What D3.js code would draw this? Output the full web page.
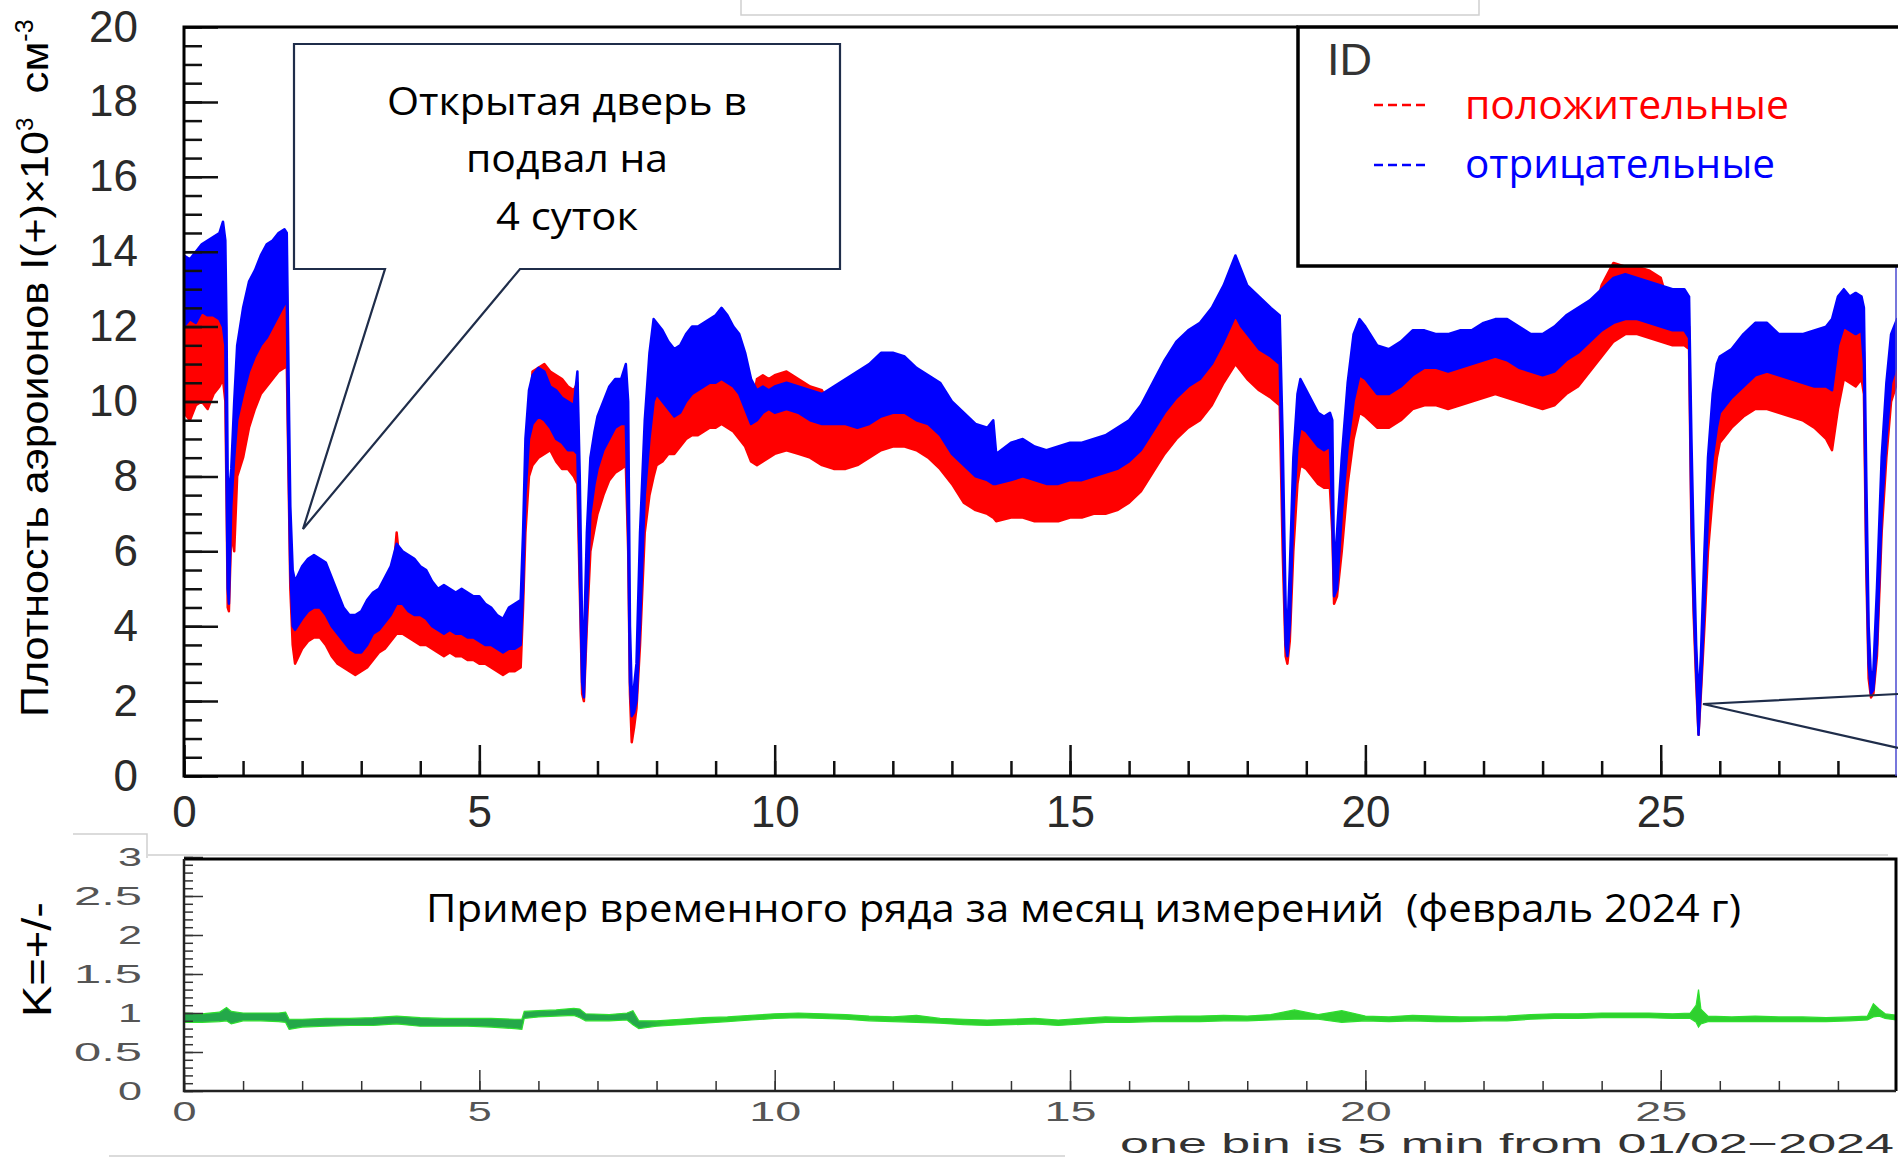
<!DOCTYPE html>
<html>
<head>
<meta charset="utf-8">
<script src="https://cdn.jsdelivr.net/npm/d3@7"></script>
<style>
  body { margin: 0; background: #fff; }
  svg { display: block; }
</style>
</head>
<body>
<svg id="chart" width="1898" height="1159"></svg>
<script>
// day of month (one bin is 5 min, envelopes)
const days = [
  0, 0.1, 0.2, 0.3, 0.4, 0.5, 0.6, 0.66, 0.7,
  0.72, 0.74, 0.76, 0.8, 0.85, 0.9, 1.0, 1.1, 1.2, 1.3, 1.4, 1.5, 1.6, 1.7, 1.74, 1.76, 1.78, 1.8, 1.84, 1.88,
  2.0, 2.1, 2.2, 2.3, 2.4, 2.5, 2.6, 2.7, 2.8, 2.9, 3.0, 3.1, 3.2, 3.3, 3.4, 3.5, 3.6, 3.7, 3.8, 3.9,
  4.0, 4.1, 4.2, 4.3, 4.4, 4.5, 4.6, 4.7, 4.8, 4.9, 5.0, 5.1, 5.2, 5.3, 5.4, 5.5, 5.6, 5.7,
  5.74, 5.78, 5.84, 5.9, 6.0, 6.1, 6.2, 6.3, 6.4, 6.5, 6.6, 6.66,
  6.7, 6.74, 6.77, 6.82, 6.88, 6.95, 7.0, 7.1, 7.2, 7.3, 7.4, 7.48,
  7.52, 7.55, 7.58, 7.62, 7.66, 7.72, 7.8, 7.88, 7.95,
  8.0, 8.1, 8.2, 8.3, 8.4, 8.5, 8.6, 8.7, 8.8, 8.9, 9.0, 9.1, 9.2, 9.3, 9.4, 9.5, 9.6,
  9.7, 9.8, 9.9, 10.0, 10.2, 10.4, 10.6, 10.8,
  11.0, 11.2, 11.4, 11.6, 11.8, 12.0, 12.2, 12.4, 12.6, 12.8, 13.0, 13.2, 13.4, 13.6, 13.7, 13.75,
  14.0, 14.2, 14.4, 14.6, 14.8, 15.0, 15.2, 15.4, 15.6, 15.8, 16.0, 16.2, 16.4, 16.6, 16.8, 17.0, 17.2, 17.4, 17.6, 17.8, 17.9, 18.0, 18.2, 18.4, 18.55,
  18.6, 18.65, 18.68, 18.72, 18.78, 18.85, 18.9, 19.0, 19.1, 19.2, 19.3, 19.4,
  19.44, 19.47, 19.52, 19.6, 19.7, 19.8, 19.9,
  20.0, 20.2, 20.4, 20.6, 20.8, 21.0, 21.2, 21.4, 21.6, 21.8, 22.0, 22.2, 22.4, 22.6, 22.8, 23.0, 23.2, 23.4, 23.6, 23.8,
  24.0, 24.2, 24.4, 24.6, 24.8, 25.0, 25.2, 25.4, 25.48,
  25.52, 25.56, 25.6, 25.64, 25.68, 25.74, 25.8, 25.88, 25.95,
  26.0, 26.2, 26.4, 26.6, 26.8, 27.0, 27.2, 27.4, 27.6, 27.8, 27.9, 28.0, 28.1, 28.2, 28.3, 28.4, 28.44,
  28.48, 28.52, 28.56, 28.6, 28.66, 28.74, 28.82, 28.9, 29.0
];
// negative ions, upper / lower edge of the blue band (x10^3 cm^-3)
const blueHi = [
  13.9, 13.8, 14.0, 14.2, 14.3, 14.4, 14.5, 14.8, 14.3,
  12.0, 8.0, 7.5, 8.2, 10.0, 11.5, 12.5, 13.2, 13.5, 13.9, 14.2, 14.3, 14.5, 14.6, 14.5, 12.0, 9.5, 7.2, 5.5, 5.2,
  5.6, 5.8, 5.9, 5.8, 5.7, 5.3, 4.9, 4.5, 4.3, 4.3, 4.4, 4.7, 4.9, 5.0, 5.3, 5.6, 6.2, 6.0, 5.9, 5.8,
  5.6, 5.5, 5.2, 5.0, 5.1, 5.0, 4.9, 5.0, 4.9, 4.8, 4.8, 4.6, 4.5, 4.3, 4.2, 4.5, 4.6, 4.7,
  6.5, 9.0, 10.3, 10.7, 10.9, 10.8, 10.4, 10.3, 10.1, 10.0, 9.9, 10.8,
  8.0, 4.0, 3.5, 6.5, 8.5, 9.2, 9.6, 10.0, 10.4, 10.6, 10.6, 11.0,
  10.0, 4.0, 2.2, 2.4, 3.0, 6.5, 9.5, 11.3, 12.2,
  12.1, 11.9, 11.6, 11.4, 11.5, 11.8, 12.0, 12.0, 12.1, 12.2, 12.3, 12.5, 12.3, 12.0, 11.8, 11.3, 10.6,
  10.3, 10.4, 10.3, 10.4, 10.5, 10.4, 10.3, 10.2,
  10.4, 10.6, 10.8, 11.0, 11.3, 11.3, 11.2, 10.9, 10.7, 10.5, 10.0, 9.7, 9.4, 9.3, 9.5, 8.6,
  8.9, 9.0, 8.8, 8.7, 8.8, 8.9, 8.9, 9.0, 9.1, 9.3, 9.5, 9.9, 10.5, 11.1, 11.6, 11.9, 12.1, 12.5, 13.1, 13.9, 13.5, 13.1, 12.8, 12.5, 12.3,
  9.0, 4.5, 3.8, 5.5, 8.5, 10.2, 10.6, 10.3, 10.0, 9.7, 9.6, 9.7,
  9.5, 5.5, 6.5, 8.5, 10.5, 11.8, 12.2,
  12.0, 11.5, 11.4, 11.6, 11.9, 11.9, 11.8, 11.8, 11.9, 11.9, 12.1, 12.2, 12.2, 12.0, 11.8, 11.8, 12.0, 12.3, 12.5, 12.7,
  13.0, 13.3, 13.4, 13.3, 13.2, 13.1, 13.0, 13.0, 12.8,
  9.0, 6.0, 3.5, 2.0, 3.2, 6.0, 8.5, 10.2, 11.0,
  11.2, 11.4, 11.8, 12.1, 12.1, 11.8, 11.8, 11.8, 11.9, 12.0, 12.2, 12.8, 13.0, 12.8, 12.9, 12.8, 12.5,
  8.0, 4.0, 2.6, 2.8, 5.0, 8.5, 10.5, 11.8, 12.2
];
const blueLo = [
  12.0, 12.2, 12.1, 12.4, 12.3, 12.3, 12.2, 12.0, 11.5,
  8.0, 5.0, 4.6, 7.2, 8.5, 9.5, 10.2, 10.8, 11.2, 11.5, 11.7, 12.0, 12.3, 12.6, 12.8, 9.5, 7.5, 5.5, 4.0, 3.9,
  4.2, 4.4, 4.5, 4.5, 4.3, 4.0, 3.8, 3.6, 3.4, 3.3, 3.3, 3.5, 3.8, 3.9, 4.1, 4.3, 4.6, 4.6, 4.4, 4.3,
  4.3, 4.2, 4.0, 3.9, 3.8, 3.9, 3.8, 3.8, 3.7, 3.7, 3.6, 3.5, 3.5, 3.4, 3.3, 3.4, 3.4, 3.5,
  5.0, 7.5, 9.0, 9.4, 9.6, 9.5, 9.3, 9.0, 8.9, 8.7, 8.7, 8.6,
  5.5, 2.5, 2.1, 4.5, 7.0, 7.8, 8.2, 8.7, 9.0, 9.3, 9.4, 9.4,
  6.5, 2.5, 1.6, 1.7, 2.0, 4.0, 7.5, 9.0, 10.0,
  10.2, 10.0, 9.8, 9.6, 9.7, 10.0, 10.2, 10.3, 10.4, 10.5, 10.5, 10.6, 10.5, 10.4, 10.2, 9.8, 9.4,
  9.5, 9.7, 9.8, 9.7, 9.8, 9.7, 9.5, 9.4,
  9.4, 9.4, 9.3, 9.4, 9.6, 9.7, 9.7, 9.5, 9.4, 9.1, 8.6, 8.3, 8.0, 7.9, 7.8, 7.8,
  7.9, 8.0, 7.9, 7.8, 7.8, 7.9, 7.9, 8.0, 8.1, 8.2, 8.4, 8.7, 9.2, 9.7, 10.1, 10.4, 10.6, 11.0, 11.6, 12.3, 12.0, 11.8, 11.4, 11.2, 11.0,
  7.0, 3.5, 3.2, 4.0, 7.0, 8.8, 9.3, 9.2, 9.0, 8.8, 8.7, 8.8,
  7.0, 4.8, 5.0, 7.0, 8.8, 10.0, 10.7,
  10.6, 10.2, 10.2, 10.4, 10.7, 10.9, 10.9, 10.8, 10.9, 11.0, 11.1, 11.2, 11.1, 10.9, 10.8, 10.7, 10.8, 11.1, 11.3, 11.6,
  11.9, 12.1, 12.2, 12.2, 12.1, 12.0, 11.9, 11.9, 11.7,
  7.0, 4.5, 2.8, 1.1, 2.4, 4.5, 7.0, 8.5, 9.3,
  9.7, 10.1, 10.4, 10.7, 10.8, 10.7, 10.6, 10.5, 10.4, 10.4, 10.3, 11.5, 12.0, 11.9, 11.8, 11.9, 11.0,
  6.0, 3.0, 2.2, 2.3, 3.5, 7.0, 9.0, 10.5, 11.0
];
// positive ions, upper / lower edge of the red band
const redHi = [
  12.3, 12.5, 12.4, 12.7, 12.6, 12.6, 12.5, 12.3, 11.8,
  8.3, 5.3, 4.9, 7.5, 8.8, 9.8, 10.5, 11.1, 11.5, 11.8, 12.0, 12.3, 12.6, 12.9, 13.1, 9.8, 7.8, 5.8, 4.3, 4.2,
  4.5, 4.7, 4.8, 4.8, 4.6, 4.3, 4.1, 3.9, 3.7, 3.6, 3.6, 3.8, 4.1, 4.2, 4.4, 4.6, 6.5, 4.9, 4.7, 4.6,
  4.6, 4.5, 4.3, 4.2, 4.1, 4.2, 4.1, 4.1, 4.0, 4.0, 3.9, 3.8, 3.8, 3.7, 3.6, 3.7, 3.7, 3.8,
  5.3, 7.8, 9.3, 10.8, 10.9, 11.0, 10.8, 10.7, 10.6, 10.4, 10.3, 10.5,
  5.8, 2.8, 2.4, 4.8, 7.3, 8.1, 8.5, 9.0, 9.3, 9.6, 9.7, 9.7,
  6.8, 2.8, 1.9, 2.0, 2.3, 4.3, 7.8, 9.3, 10.3,
  10.5, 10.3, 10.1, 9.9, 10.0, 10.3, 10.5, 10.6, 10.7, 10.8, 10.8, 10.9, 10.8, 10.7, 10.5, 10.1, 9.7,
  10.6, 10.7, 10.6, 10.7, 10.8, 10.6, 10.4, 10.3,
  9.7, 9.7, 9.6, 9.7, 9.9, 10.0, 10.0, 9.8, 9.7, 9.4, 8.9, 8.6, 8.3, 8.2, 8.1, 8.1,
  8.2, 8.3, 8.2, 8.1, 8.1, 8.2, 8.2, 8.3, 8.4, 8.5, 8.7, 9.0, 9.5, 10.0, 10.4, 10.7, 10.9, 11.3, 11.9, 12.6, 12.3, 12.1, 11.7, 11.5, 11.3,
  7.3, 3.8, 3.5, 4.3, 7.3, 9.1, 9.6, 9.5, 9.3, 9.1, 9.6, 9.1,
  7.3, 5.1, 5.3, 7.3, 9.1, 10.3, 11.0,
  10.9, 10.5, 10.5, 10.7, 11.0, 11.2, 11.2, 11.1, 11.2, 11.3, 11.4, 11.5, 11.4, 11.2, 11.1, 11.0, 11.1, 11.4, 11.6, 11.9,
  13.1, 13.7, 13.6, 13.6, 13.5, 13.3, 12.2, 12.2, 12.0,
  7.3, 4.8, 3.1, 1.4, 2.7, 4.8, 7.3, 8.8, 9.6,
  10.0, 10.4, 10.7, 11.0, 11.1, 11.0, 10.9, 10.8, 10.7, 10.7, 10.6, 11.8, 12.3, 12.2, 12.1, 12.2, 11.3,
  6.3, 3.3, 2.5, 2.6, 3.8, 7.3, 9.3, 10.8, 11.3
];
const redLo = [
  9.7, 9.5, 9.9, 10.0, 9.8, 10.2, 10.4, 10.6, 10.0,
  7.5, 4.5, 4.4, 6.5, 6.0, 8.0, 8.5, 9.3, 9.8, 10.2, 10.4, 10.6, 10.8, 10.9, 11.0, 9.0, 7.0, 5.0, 3.5, 3.0,
  3.4, 3.6, 3.7, 3.7, 3.5, 3.2, 3.0, 2.9, 2.8, 2.7, 2.8, 2.9, 3.1, 3.3, 3.4, 3.6, 3.8, 3.8, 3.7, 3.6,
  3.5, 3.5, 3.4, 3.3, 3.2, 3.3, 3.2, 3.2, 3.1, 3.1, 3.0, 3.0, 2.9, 2.8, 2.7, 2.8, 2.8, 2.9,
  4.5, 6.5, 8.0, 8.3, 8.5, 8.6, 8.7, 8.4, 8.2, 8.2, 8.0, 7.8,
  5.0, 2.2, 2.0, 4.0, 6.0, 6.6, 7.0, 7.5, 7.9, 8.1, 8.2, 8.3,
  6.0, 2.2, 0.9, 1.3, 1.8, 3.5, 6.5, 7.5, 8.0,
  8.3, 8.4, 8.6, 8.6, 8.8, 9.0, 9.1, 9.1, 9.2, 9.3, 9.3, 9.4, 9.3, 9.2, 9.0, 8.8, 8.4,
  8.3, 8.4, 8.5, 8.6, 8.7, 8.6, 8.5, 8.3,
  8.2, 8.2, 8.3, 8.5, 8.7, 8.8, 8.8, 8.7, 8.5, 8.2, 7.8, 7.3, 7.1, 7.0, 6.9, 6.8,
  6.9, 6.9, 6.8, 6.8, 6.8, 6.9, 6.9, 7.0, 7.0, 7.1, 7.3, 7.6, 8.1, 8.6, 9.0, 9.3, 9.5, 9.9, 10.5, 11.0, 10.8, 10.6, 10.3, 10.1, 9.9,
  6.0, 3.2, 3.0, 3.6, 6.0, 7.8, 8.3, 8.2, 8.0, 7.8, 7.7, 7.7,
  6.5, 4.6, 4.8, 6.0, 7.8, 9.0, 9.7,
  9.6, 9.3, 9.3, 9.5, 9.8, 9.9, 9.9, 9.8, 9.9, 10.0, 10.1, 10.2, 10.1, 10.0, 9.9, 9.8, 9.9, 10.2, 10.4, 10.8,
  11.2, 11.6, 11.8, 11.8, 11.7, 11.6, 11.5, 11.5, 11.4,
  6.5, 4.2, 2.5, 1.1, 2.2, 4.0, 6.0, 7.5, 8.5,
  8.9, 9.3, 9.6, 9.8, 9.8, 9.7, 9.6, 9.5, 9.3, 9.0, 8.7, 9.8, 10.6, 10.5, 10.4, 10.6, 10.2,
  5.5, 2.6, 2.1, 2.2, 3.2, 6.5, 8.5, 10.0, 10.5
];

// ratio K = (+)/(-), lower panel
const kDays = [
  0, 0.3, 0.6, 0.72, 0.8, 1.0, 1.3, 1.6, 1.72, 1.78,
  2.0, 2.4, 2.8, 3.2, 3.6, 4.0, 4.4, 4.8, 5.2, 5.6,
  5.72, 5.76, 6.0, 6.3, 6.6, 6.7, 6.8, 7.2, 7.5, 7.6,
  7.7, 8.0, 8.4, 8.8, 9.2, 9.6, 10.0, 10.4, 10.8, 11.2,
  11.6, 12.0, 12.4, 12.8, 13.2, 13.6, 14.0, 14.4, 14.8, 15.2,
  15.6, 16.0, 16.4, 16.8, 17.2, 17.6, 18.0, 18.4, 18.8, 19.2,
  19.6, 20.0, 20.4, 20.8, 21.2, 21.6, 22.0, 22.4, 22.8, 23.2,
  23.6, 24.0, 24.4, 24.8, 25.2, 25.5, 25.6, 25.64, 25.68, 25.8,
  26.2, 26.6, 27.0, 27.4, 27.8, 28.2, 28.5, 28.6, 28.7, 28.8, 29.0
];
const kHi = [
  1.00, 0.99, 1.01, 1.07, 1.02, 1.00, 1.00, 1.00, 1.01, 0.92,
  0.92, 0.93, 0.93, 0.94, 0.96, 0.94, 0.93, 0.93, 0.93, 0.92,
  0.92, 1.02, 1.03, 1.04, 1.06, 1.05, 0.99, 0.98, 1.00, 1.03,
  0.90, 0.90, 0.92, 0.94, 0.95, 0.97, 0.99, 1.00, 0.99, 0.98,
  0.96, 0.95, 0.97, 0.93, 0.92, 0.91, 0.92, 0.93, 0.91, 0.93,
  0.95, 0.94, 0.95, 0.96, 0.96, 0.97, 0.96, 0.98, 1.04, 0.98,
  1.03, 0.96, 0.95, 0.97, 0.96, 0.95, 0.95, 0.96, 0.98, 0.99,
  0.99, 1.00, 1.00, 1.00, 0.99, 1.00, 1.10, 1.30, 1.05, 0.96,
  0.95, 0.96, 0.95, 0.95, 0.94, 0.95, 0.96, 1.12, 1.05, 0.99, 0.97
];
const kLo = [
  0.88, 0.88, 0.89, 0.90, 0.86, 0.90, 0.90, 0.89, 0.88, 0.79,
  0.82, 0.83, 0.84, 0.84, 0.86, 0.83, 0.83, 0.83, 0.82, 0.80,
  0.79, 0.93, 0.95, 0.96, 0.97, 0.94, 0.90, 0.90, 0.91, 0.85,
  0.80, 0.83, 0.85, 0.87, 0.89, 0.91, 0.93, 0.94, 0.93, 0.92,
  0.90, 0.89, 0.88, 0.87, 0.85, 0.84, 0.85, 0.86, 0.84, 0.86,
  0.88, 0.88, 0.89, 0.89, 0.89, 0.90, 0.90, 0.91, 0.92, 0.92,
  0.88, 0.90, 0.89, 0.90, 0.89, 0.89, 0.90, 0.90, 0.92, 0.93,
  0.93, 0.94, 0.94, 0.94, 0.93, 0.93, 0.88, 0.82, 0.86, 0.89,
  0.89, 0.89, 0.89, 0.89, 0.89, 0.90, 0.91, 0.95, 0.96, 0.93, 0.91
];

const yTicksMain = d3.range(0, 21, 2);
const xTicksMajor = [0, 5, 10, 15, 20, 25];
const kTicks = [0, 0.5, 1, 1.5, 2, 2.5, 3];

const svg = d3.select("#chart");
const rootFont = "'Liberation Sans', Arial, sans-serif";
const textFont = "'Open Sans', 'Noto Sans', sans-serif";

const x = d3.scaleLinear().domain([0, 29]).range([184, 1897]);
const y = d3.scaleLinear().domain([0, 20]).range([776, 27]);
const yk = d3.scaleLinear().domain([0, 3]).range([1091, 857]);

// faint leftovers of the pasted picture
const ghost = svg.append("g").attr("fill", "none").attr("stroke", "#cfcfcf").attr("stroke-width", 1.5);
ghost.append("rect").attr("x", 741).attr("y", -2).attr("width", 738).attr("height", 17);
ghost.append("path").attr("d", "M73,834 H147 V858");
ghost.append("path").attr("d", "M148,855 H1888");
ghost.append("path").attr("d", "M109,1156 H1065");

// legend background (data is painted over it)
svg.append("rect").attr("x", 1298).attr("y", 27).attr("width", 620).attr("height", 239).attr("fill", "#fff");
ghost.append("rect").attr("x", 1315).attr("y", 91).attr("width", 170).attr("height", 163);
ghost.append("rect").attr("x", 1712).attr("y", 39).attr("width", 170).attr("height", 215);

svg.append("clipPath").attr("id", "plotclip")
  .append("rect").attr("x", 184).attr("y", 0).attr("width", 1713).attr("height", 776);
svg.append("clipPath").attr("id", "kclip")
  .append("rect").attr("x", 184).attr("y", 859).attr("width", 1712).attr("height", 232);

const rows = days.map((d, i) => ({d, bH: blueHi[i], bL: blueLo[i], rH: redHi[i], rL: redLo[i]}));
const areaRed = d3.area().x(r => x(r.d)).y0(r => y(r.rL)).y1(r => y(r.rH));
const areaBlue = d3.area().x(r => x(r.d)).y0(r => y(r.bL)).y1(r => y(r.bH));

const gData = svg.append("g").attr("clip-path", "url(#plotclip)");
gData.append("path").datum(rows).attr("d", areaRed)
  .attr("fill", "#ff0000").attr("stroke", "#ff0000").attr("stroke-width", 2.5).attr("stroke-linejoin", "round");
gData.append("path").datum(rows).attr("d", areaBlue)
  .attr("fill", "#0000ff").attr("stroke", "#0000ff").attr("stroke-width", 2.5).attr("stroke-linejoin", "round");

// lower panel, ratio band: darker green for the first week, bright after
const grad = svg.append("defs").append("linearGradient").attr("id", "kgrad")
  .attr("gradientUnits", "userSpaceOnUse").attr("x1", x(0)).attr("x2", x(29)).attr("y1", 0).attr("y2", 0);
grad.append("stop").attr("offset", 0).attr("stop-color", "#24a84a");
grad.append("stop").attr("offset", 7.8 / 29).attr("stop-color", "#24a84a");
grad.append("stop").attr("offset", 8.2 / 29).attr("stop-color", "#2fd02f");
grad.append("stop").attr("offset", 1).attr("stop-color", "#2fd02f");

const kRows = kDays.map((d, i) => ({d, hi: kHi[i], lo: kLo[i]}));
const areaK = d3.area().x(r => x(r.d)).y0(r => yk(r.lo)).y1(r => yk(r.hi));
svg.append("g").attr("clip-path", "url(#kclip)")
  .append("path").datum(kRows).attr("d", areaK)
  .attr("fill", "url(#kgrad)").attr("stroke", "#2ee02e").attr("stroke-width", 1.2);

// ---- main axes
function styleAxis(g, size, color, fsize) {
  g.select(".domain").remove();
  g.selectAll("line").attr("stroke", color).attr("stroke-width", size);
  g.attr("font-family", rootFont).attr("font-size", fsize);
  g.selectAll("text").attr("fill", "#2a2a2a");
}
// ROOT draws these labels wide: about 24px per digit, 20px for the dot
function wideLabels(g) {
  g.selectAll("text")
    .attr("fill", "#555")
    .attr("textLength", function () {
      const s = this.textContent;
      return s.replace(".", "").length * 24 + (s.includes(".") ? 20 : 0) + (s.length > 1 && !s.includes(".") ? 4 : 0);
    })
    .attr("lengthAdjust", "spacingAndGlyphs");
}

svg.append("g").attr("transform", "translate(184,0)")
  .call(d3.axisLeft(y).tickValues(d3.range(0, 20.01, 0.5)).tickSize(-18).tickFormat(""))
  .call(g => styleAxis(g, 2.5, "#111", 10));
svg.append("g").attr("transform", "translate(184,0)")
  .call(d3.axisLeft(y).tickValues(yTicksMain).tickSize(-34).tickPadding(46).tickFormat(d3.format("d")))
  .call(g => styleAxis(g, 2.5, "#111", 44));

svg.append("g").attr("transform", "translate(0,776)")
  .call(d3.axisBottom(x).tickValues(d3.range(0, 29, 1)).tickSize(-15).tickFormat(""))
  .call(g => styleAxis(g, 2.5, "#111", 10));
svg.append("g").attr("transform", "translate(0,776)")
  .call(d3.axisBottom(x).tickValues(xTicksMajor).tickSize(-31).tickPadding(20).tickFormat(d3.format("d")))
  .call(g => styleAxis(g, 2.5, "#111", 44));

const frame = svg.append("g").attr("fill", "none").attr("stroke", "#000").attr("stroke-width", 3);
frame.append("path").attr("d", "M1298,27 H184 V776 H1897");
frame.append("path").attr("d", "M1896,266 V776").attr("stroke", "#4a4ad0").attr("stroke-width", 1.5);

// legend box
const lg = svg.append("g");
lg.append("rect").attr("x", 1298).attr("y", 27).attr("width", 620).attr("height", 239)
  .attr("fill", "none").attr("stroke", "#000").attr("stroke-width", 3.5);
lg.append("text").attr("x", 1327).attr("y", 75).attr("font-family", rootFont).attr("font-size", 45)
  .attr("fill", "#333").text("ID");
lg.append("line").attr("x1", 1374).attr("x2", 1428).attr("y1", 105).attr("y2", 105)
  .attr("stroke", "#ff0000").attr("stroke-width", 2.5).attr("stroke-dasharray", "9,5");
lg.append("line").attr("x1", 1374).attr("x2", 1428).attr("y1", 165).attr("y2", 165)
  .attr("stroke", "#0000ff").attr("stroke-width", 2.5).attr("stroke-dasharray", "9,5");
lg.append("text").attr("x", 1465).attr("y", 119).attr("font-family", textFont).attr("font-size", 40)
  .attr("fill", "#ff0000").attr("textLength", 324).attr("lengthAdjust", "spacingAndGlyphs").text("положительные");
lg.append("text").attr("x", 1465).attr("y", 178).attr("font-family", textFont).attr("font-size", 40)
  .attr("fill", "#0000ff").attr("textLength", 310).attr("lengthAdjust", "spacingAndGlyphs").text("отрицательные");

// callout
const callout = svg.append("g");
callout.append("path").attr("d", "M294,44 H840 V269 H520 L303,529 L385,269 H294 Z")
  .attr("fill", "#fff").attr("stroke", "#1f2d4a").attr("stroke-width", 2.2).attr("stroke-linejoin", "miter");
const calloutLines = [
  {t: "Открытая дверь в", y: 115, w: 360},
  {t: "подвал на", y: 172, w: 202},
  {t: "4 суток", y: 230, w: 142}
];
callout.selectAll("text").data(calloutLines).join("text")
  .attr("x", 567).attr("y", d => d.y).attr("text-anchor", "middle")
  .attr("font-family", textFont).attr("font-size", 39).attr("fill", "#000")
  .attr("textLength", d => d.w).attr("lengthAdjust", "spacingAndGlyphs")
  .text(d => d.t);

// second pointer coming from off the picture
svg.append("path").attr("d", "M1898,694 L1703,704 L1898,748")
  .attr("fill", "none").attr("stroke", "#1f2d4a").attr("stroke-width", 2.2);

// y title
const yt = svg.append("text").attr("transform", "translate(48,717) rotate(-90)")
  .attr("font-family", rootFont).attr("font-size", 39).attr("fill", "#000");
yt.append("tspan").attr("textLength", 586).attr("lengthAdjust", "spacingAndGlyphs")
  .text("Плотность аэроионов I(+)×10");
yt.append("tspan").attr("font-size", 24).attr("dy", -15).text("3");
yt.append("tspan").attr("dy", 15).attr("textLength", 76).attr("lengthAdjust", "spacingAndGlyphs")
  .text("\u00a0\u00a0см");
yt.append("tspan").attr("font-size", 25).attr("dy", -15).text("-3");

// ---- lower panel axes
svg.append("g").attr("transform", "translate(184,0)")
  .call(d3.axisLeft(yk).tickValues(d3.range(0, 3.001, 0.1)).tickSize(-9).tickFormat(""))
  .call(g => styleAxis(g, 1.5, "#333", 10));
svg.append("g").attr("transform", "translate(184,0)")
  .call(d3.axisLeft(yk).tickValues(kTicks).tickSize(-19).tickPadding(42).tickFormat(d3.format("")))
  .call(g => styleAxis(g, 1.5, "#333", 26))
  .call(wideLabels);
svg.append("g").attr("transform", "translate(0,1091)")
  .call(d3.axisBottom(x).tickValues(d3.range(0, 29, 1)).tickSize(-10).tickFormat(""))
  .call(g => styleAxis(g, 1.5, "#333", 10));
svg.append("g").attr("transform", "translate(0,1091)")
  .call(d3.axisBottom(x).tickValues(xTicksMajor).tickSize(-21).tickPadding(11).tickFormat(d3.format("d")))
  .call(g => styleAxis(g, 1.5, "#333", 27))
  .call(wideLabels);

const kframe = svg.append("g").attr("fill", "none");
kframe.append("path").attr("d", "M184,859 H1896 V1091").attr("stroke", "#000").attr("stroke-width", 3);
kframe.append("path").attr("d", "M184,859 V1091 H1896").attr("stroke", "#222").attr("stroke-width", 2.5);

svg.append("text").attr("transform", "translate(51,1017) rotate(-90)")
  .attr("font-family", rootFont).attr("font-size", 41).attr("fill", "#000")
  .attr("textLength", 115).attr("lengthAdjust", "spacingAndGlyphs").text("K=+/-");

svg.append("text").attr("x", 426).attr("y", 922)
  .attr("font-family", textFont).attr("font-size", 38).attr("fill", "#000")
  .attr("textLength", 1315).attr("lengthAdjust", "spacingAndGlyphs")
  .text("Пример временного ряда за месяц измерений\u00a0\u00a0(февраль 2024 г)");

svg.append("text").attr("x", 1120).attr("y", 1153)
  .attr("font-family", rootFont).attr("font-size", 27).attr("fill", "#333")
  .attr("textLength", 774).attr("lengthAdjust", "spacingAndGlyphs")
  .text("one bin is 5 min from 01/02\u22122024");
</script>
</body>
</html>
